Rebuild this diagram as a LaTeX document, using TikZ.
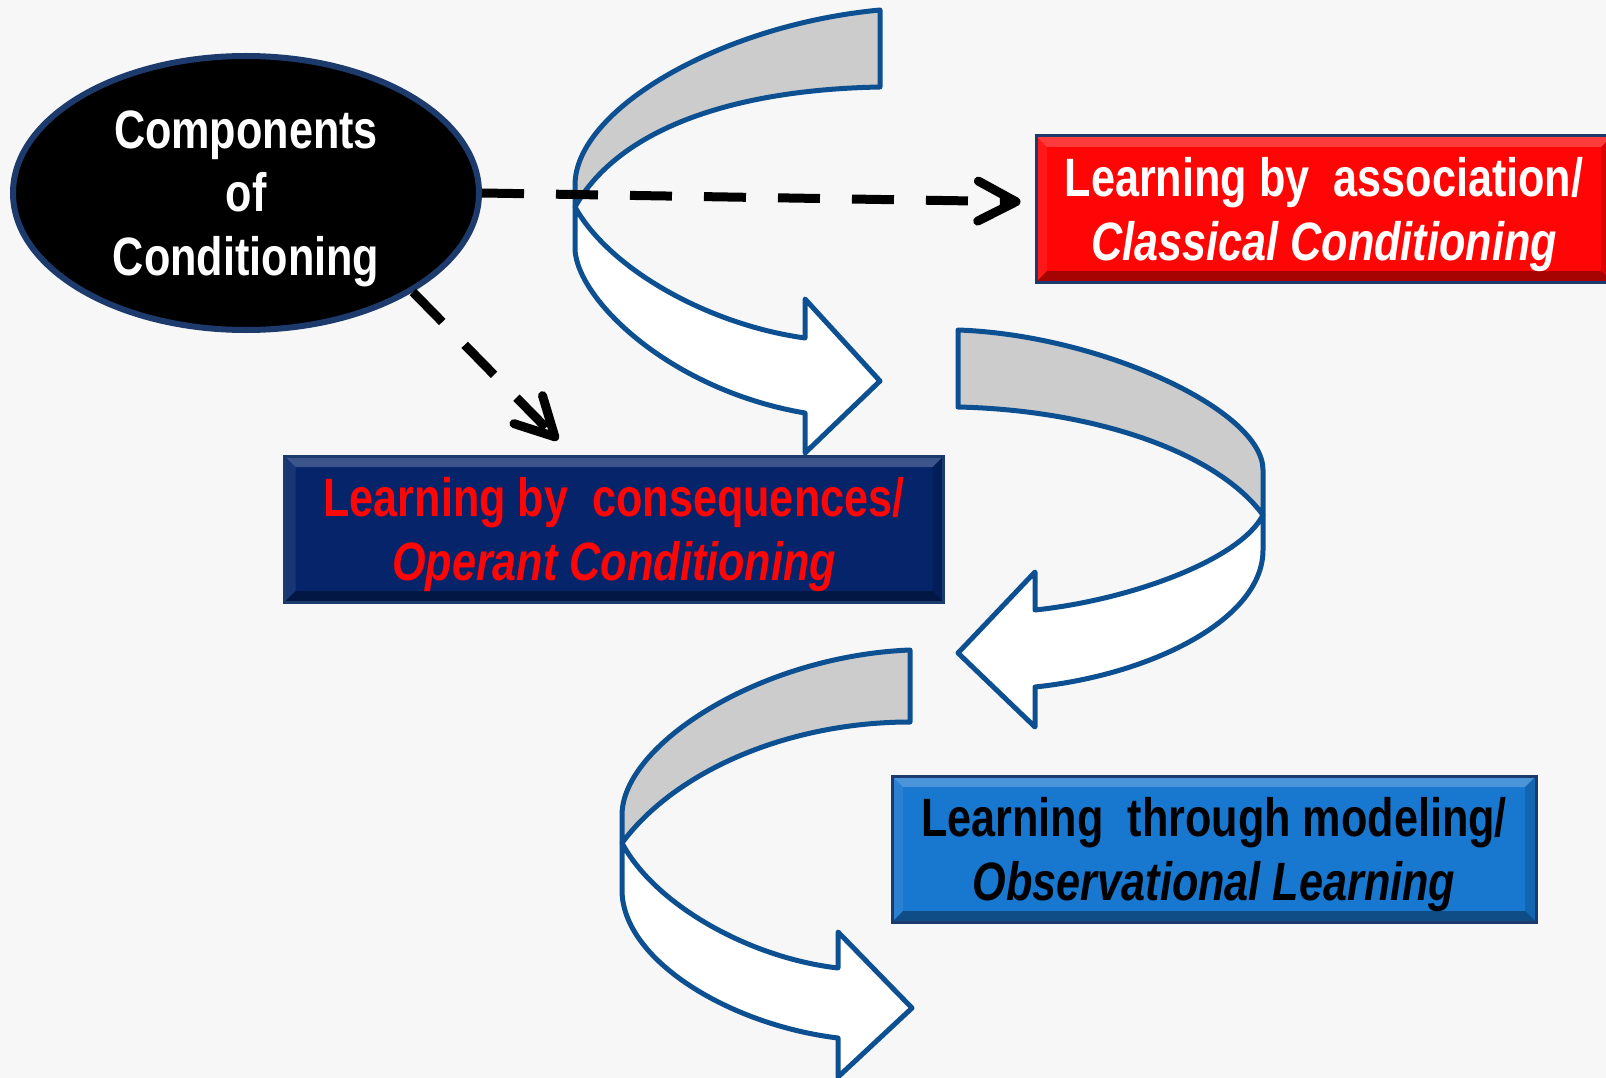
\documentclass[tikz,border=0pt]{standalone}
\usepackage{fontspec}
\newfontfamily\narrowsans{Liberation Sans}[FakeStretch=0.80]
\usepackage{tikz}
\usetikzlibrary{
  arrows.meta,
  shapes.geometric
}
\definecolor{bgcolor}{HTML}{F7F7F7}
\definecolor{ringline}{HTML}{0D5091}
\definecolor{backgray}{HTML}{CCCCCC}
\definecolor{assoccolor}{HTML}{FF0505}
\definecolor{opercolor}{HTML}{05246A}
\definecolor{modelcolor}{HTML}{1877CF}
\definecolor{edgecolor}{HTML}{1C3A6B}

\begin{document}
\begin{tikzpicture}[
  x=1pt, y=-1pt,
  every node/.style={font=\narrowsans\bfseries\fontsize{54}{63.5}\selectfont,
                     align=center, inner sep=0pt, text depth=0pt},
  topic/.style={draw=edgecolor, line width=3pt, minimum height=146pt,
    path picture={
      \fill[white, opacity=.22] (path picture bounding box.north west)
        -- (path picture bounding box.north east)
        -- ([xshift=-11pt, yshift=-11pt]path picture bounding box.north east)
        -- ([xshift=11pt, yshift=-11pt]path picture bounding box.north west) -- cycle;
      \fill[black, opacity=.35] (path picture bounding box.south west)
        -- (path picture bounding box.south east)
        -- ([xshift=-11pt, yshift=11pt]path picture bounding box.south east)
        -- ([xshift=11pt, yshift=11pt]path picture bounding box.south west) -- cycle;
      \fill[black, opacity=.15] (path picture bounding box.north east)
        -- (path picture bounding box.south east)
        -- ([xshift=-11pt, yshift=11pt]path picture bounding box.south east)
        -- ([xshift=-11pt, yshift=-11pt]path picture bounding box.north east) -- cycle;
      \fill[white, opacity=.08] (path picture bounding box.north west)
        -- (path picture bounding box.south west)
        -- ([xshift=11pt, yshift=11pt]path picture bounding box.south west)
        -- ([xshift=11pt, yshift=-11pt]path picture bounding box.north west) -- cycle;
    }},
  ringback/.style={draw=ringline, line width=5pt, fill=backgray, line join=round},
  ringfront/.style={draw=ringline, line width=5pt, fill=white, line join=round},
  dasharrow/.style={line width=9pt, dash pattern=on 42pt off 32pt,
                    -{Straight Barb[length=38pt, width=40pt, round]}}
]
  \useasboundingbox (0,0) rectangle (1606,1078);
  \fill[bgcolor] (0,0) rectangle (1606,1078);

  % First ribbon arrow (wraps left, points right)
  \draw[ringback] (880,10) .. controls (720,25) and (575,110) .. (575,185)
    -- (575,207) .. controls (615,135) and (720,90) .. (880,87) -- cycle;
  \draw[ringfront] (575,207) -- (575,250) .. controls (578,300) and (670,390) .. (805,413)
    -- (805,453) -- (880,381) -- (805,299) -- (805,338)
    .. controls (710,325) and (610,270) .. (575,207) -- cycle;

  % Second ribbon arrow (wraps right, points left)
  \draw[ringback] (958,330) .. controls (1100,335) and (1263,410) .. (1263,470)
    -- (1263,515) .. controls (1215,450) and (1090,410) .. (958,407) -- cycle;
  \draw[ringfront] (1263,515) -- (1263,550) .. controls (1263,620) and (1150,675) .. (1035,687)
    -- (1035,727) -- (958,653) -- (1035,572) -- (1035,610)
    .. controls (1130,600) and (1240,560) .. (1263,515) -- cycle;

  % Third ribbon arrow (wraps left, points right)
  \draw[ringback] (910,650) .. controls (760,656) and (622,745) .. (622,815)
    -- (622,843) .. controls (676,770) and (790,722) .. (910,722) -- cycle;
  \draw[ringfront] (622,843) -- (622,890) .. controls (622,960) and (730,1025) .. (838,1038)
    -- (838,1077) -- (912,1008) -- (838,932) -- (838,968)
    .. controls (750,958) and (655,905) .. (622,843) -- cycle;

  % Main topic
  \node[ellipse, draw=edgecolor, line width=6pt, fill=black, text=white,
        minimum width=466pt, minimum height=274pt]
    at (246,193) (comp) {Components\\of\\Conditioning};

  % The three kinds of learning
  \node[topic, fill=assoccolor, text=white, minimum width=576pt]
    at (1324,209) (assoc) {Learning by\ \ association/\\{\itshape Classical Conditioning}};
  \node[topic, fill=opercolor, text=assoccolor, minimum width=659pt]
    at (614,529) (operant) {Learning by\ \ consequences/\\{\itshape Operant Conditioning}};
  \node[topic, fill=modelcolor, text=black, minimum width=644pt]
    at (1214,849) (model) {Learning\ \ through modeling/\\{\itshape Observational Learning}};

  % Dashed links from the main topic
  \coordinate (optip) at (558,440);
  \draw[dasharrow, shorten >=14pt] (comp.east) -- ([yshift=7pt]assoc.west);
  \draw[dasharrow] (comp.south east) -- (optip);

\end{tikzpicture}
\end{document}
